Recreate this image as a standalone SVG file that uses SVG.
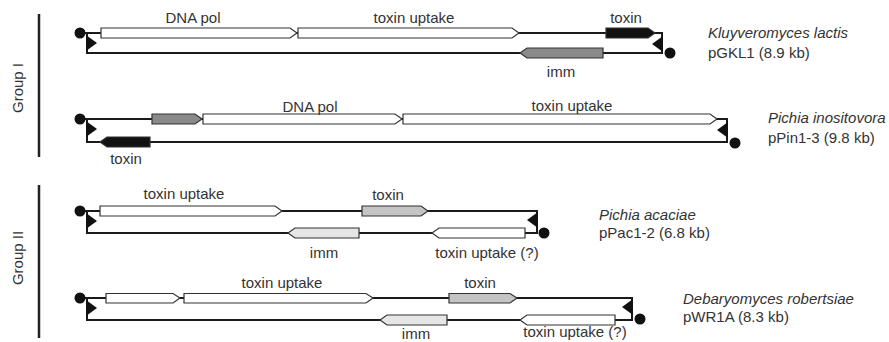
<svg xmlns="http://www.w3.org/2000/svg" width="889" height="342" viewBox="0 0 889 342">
  <style>
    text { font-family: "Liberation Sans", Arial, sans-serif; font-size: 15px; fill: #333; }
    .c { text-anchor: middle; }
    .it { font-style: italic; }
    .strand { stroke: #1a1a1a; stroke-width: 2; fill: none; }
    .gene { stroke: #333; stroke-width: 1.2; }
    .white { fill: #fff; }
    .black { fill: #111; }
    .dark { fill: #8a8a8a; }
    .mid { fill: #c4c4c4; }
    .light { fill: #e6e6e6; }
    .term { fill: #111; }
    .bar { stroke: #222; stroke-width: 2.5; }
  </style>

  <!-- group brackets -->
  <g id="group-1">
    <line class="bar" x1="39" y1="14" x2="39" y2="157"/>
    <text class="c" transform="translate(23 88) rotate(-90)">Group I</text>
  </g>
  <g id="group-2">
    <line class="bar" x1="39" y1="185" x2="39" y2="338"/>
    <text class="c" transform="translate(23 258) rotate(-90)">Group II</text>
  </g>

  <!-- pGKL1 -->
  <g id="pGKL1">
    <path class="strand" d="M80 33 H662 V53 H87 V33"/>
    <circle class="term" cx="80" cy="33" r="5.5"/>
    <polygon class="term" points="86,35 86,51 97,43"/>
    <polygon class="term" points="663,36 663,52 652,44"/>
    <circle class="term" cx="670" cy="53" r="5.5"/>
    <path class="gene white" d="M101 28 H290 L297 33 L290 38 H101 Z"/>
    <path class="gene white" d="M298 28 H512 L519 33 L512 38 H298 Z"/>
    <path class="gene black" d="M606 28 H648 L655 33 L648 38 H606 Z"/>
    <path class="gene dark" d="M603 48 H527 L520 53 L527 58 H603 Z"/>
    <text class="c" x="193" y="23">DNA pol</text>
    <text class="c" x="414" y="23">toxin uptake</text>
    <text class="c" x="626" y="23">toxin</text>
    <text class="c" x="561" y="77">imm</text>
    <text class="it" x="708" y="38">Kluyveromyces lactis</text>
    <text x="708" y="58">pGKL1 (8.9 kb)</text>
  </g>

  <!-- pPin1-3 -->
  <g id="pPin1-3">
    <path class="strand" d="M80 119 H727 V142 H87 V119"/>
    <circle class="term" cx="80" cy="119" r="5.5"/>
    <polygon class="term" points="86,121 86,137 97,129"/>
    <polygon class="term" points="728,122 728,138 717,130"/>
    <circle class="term" cx="735" cy="143" r="5.5"/>
    <path class="gene dark" d="M152 114 H195 L202 119 L195 124 H152 Z"/>
    <path class="gene white" d="M203 114 H395 L402 119 L395 124 H203 Z"/>
    <path class="gene white" d="M403 114 H710 L717 119 L710 124 H403 Z"/>
    <path class="gene black" d="M150 137 H107 L100 142 L107 147 H150 Z"/>
    <text class="c" x="310" y="112">DNA pol</text>
    <text class="c" x="572" y="111">toxin uptake</text>
    <text class="c" x="126" y="164">toxin</text>
    <text class="it" x="768" y="123">Pichia inositovora</text>
    <text x="768" y="143">pPin1-3 (9.8 kb)</text>
  </g>

  <!-- pPac1-2 -->
  <g id="pPac1-2">
    <path class="strand" d="M80 211 H537 V233 H87 V211"/>
    <circle class="term" cx="80" cy="211" r="5.5"/>
    <polygon class="term" points="86,213 86,229 97,221"/>
    <polygon class="term" points="538,212 538,228 527,220"/>
    <circle class="term" cx="544" cy="233" r="5.5"/>
    <path class="gene white" d="M100 206 H275 L282 211 L275 216 H100 Z"/>
    <path class="gene mid" d="M362 206 H421 L428 211 L421 216 H362 Z"/>
    <path class="gene light" d="M359 228 H295 L288 233 L295 238 H359 Z"/>
    <path class="gene white" d="M525 228 H439 L432 233 L439 238 H525 Z"/>
    <text class="c" x="184" y="199">toxin uptake</text>
    <text class="c" x="388" y="200">toxin</text>
    <text class="c" x="324" y="258">imm</text>
    <text class="c" x="487" y="258">toxin uptake (?)</text>
    <text class="it" x="599" y="220">Pichia acaciae</text>
    <text x="599" y="238">pPac1-2 (6.8 kb)</text>
  </g>

  <!-- pWR1A -->
  <g id="pWR1A">
    <path class="strand" d="M80 298 H632 V320 H87 V298"/>
    <circle class="term" cx="80" cy="298" r="5.5"/>
    <polygon class="term" points="86,300 86,316 97,308"/>
    <polygon class="term" points="633,299 633,315 622,307"/>
    <circle class="term" cx="640" cy="319" r="5.5"/>
    <path class="gene white" d="M106 293.5 H173 L180 298 L173 303 H106 Z"/>
    <path class="gene white" d="M184 293.5 H366 L373 298 L366 303 H184 Z"/>
    <path class="gene mid" d="M449 293.5 H510 L517 298 L510 303 H449 Z"/>
    <path class="gene light" d="M447 315 H387 L380 320 L387 325 H447 Z"/>
    <path class="gene white" d="M615 315 H527 L520 320 L527 325 H615 Z"/>
    <text class="c" x="282" y="288">toxin uptake</text>
    <text class="c" x="480" y="288">toxin</text>
    <text class="c" x="416" y="339">imm</text>
    <text class="c" x="575" y="337">toxin uptake (?)</text>
    <text class="it" x="683" y="304">Debaryomyces robertsiae</text>
    <text x="683" y="322">pWR1A (8.3 kb)</text>
  </g>
</svg>
